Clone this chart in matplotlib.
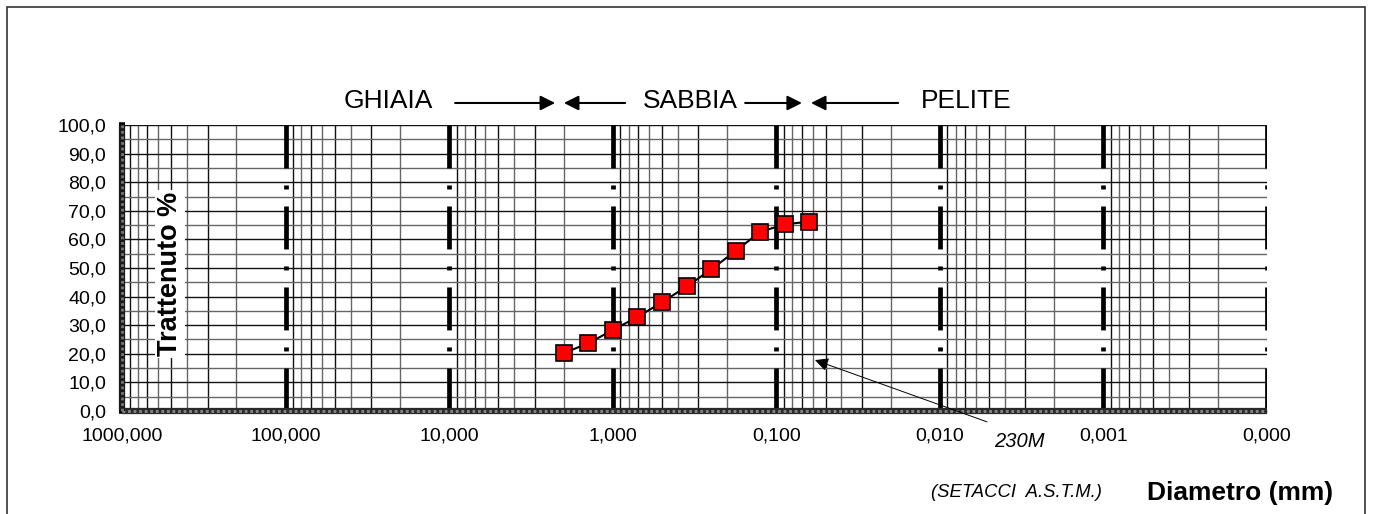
"""Curva granulometrica (trattenuto % vs diametro, setacci ASTM)."""
import matplotlib
matplotlib.use("Agg")
import matplotlib.pyplot as plt  # noqa: E402
import numpy as np  # noqa: E402
from matplotlib.patches import Rectangle  # noqa: E402

plt.rcParams["font.family"] = ["Liberation Sans", "DejaVu Sans"]

# data
diam = [2.0, 1.41, 1.0, 0.71, 0.5, 0.35, 0.25, 0.177, 0.125, 0.088, 0.063]
tratt = [20.2, 23.7, 28.3, 32.8, 38.0, 43.7, 49.5, 56.0, 62.7, 65.3, 66.2]

decades = [1000, 100, 10, 1, 0.1, 0.01, 0.001, 0.0001]
xlabels = ["1000,000", "100,000", "10,000", "1,000", "0,100", "0,010", "0,001", "0,000"]
yticks = [0, 10, 20, 30, 40, 50, 60, 70, 80, 90, 100]
ylabels = [f"{v:.1f}".replace(".", ",") for v in yticks]

fig = plt.figure(figsize=(13.76, 5.14), dpi=100)
ax = fig.add_axes([0.0887, 0.2004, 0.8321, 0.5564])
ax.set_xscale("log")
ax.set_xlim(1000, 0.0001)
ax.set_ylim(0, 100)
for s in ax.spines.values():
    s.set_visible(False)

# minor grid: 2..9 in every decade
for d in decades[1:]:
    for m in range(2, 10):
        ax.plot([d * m, d * m], [0, 100], color="#111" if m % 2 else "#666",
                lw=1.0, zorder=1)
# horizontal grid every 5 %
for i, yv in enumerate(np.arange(5, 101, 5)):
    ax.plot([1000, 0.0001], [yv, yv], color="#111" if i % 2 else "#666",
            lw=1.0, zorder=1)

# decade lines, thick dash-dot
for d in decades[1:]:
    ax.plot([d, d], [100, 0], color="black", lw=3.4,
            linestyle=(0, (9.1, 3.6, 0.85, 3.6)), zorder=2)

# checkered axis lines
ax.plot([1000, 0.0001], [0, 0], color="#2a2a2a", lw=4.5, clip_on=False,
        zorder=3, solid_capstyle="butt")
ax.plot([1000, 0.0001], [0, 0], color="#888", lw=2, ls=(0, (1, 1)),
        clip_on=False, zorder=3)
ax.plot([1000, 1000], [0, 100], color="#1a1a1a", lw=4.5, clip_on=False,
        zorder=3, solid_capstyle="butt")
ax.plot([1000, 1000], [0, 100], color="#777", lw=2, ls=(0, (1, 1)),
        clip_on=False, zorder=3)

ax.set_xticks(decades)
ax.set_xticklabels(xlabels, fontsize=14)
ax.xaxis.set_minor_locator(matplotlib.ticker.NullLocator())
ax.tick_params(axis="x", length=0, pad=12)
ax.set_yticks(yticks)
ax.set_yticklabels(ylabels, fontsize=14)
ax.tick_params(axis="y", length=5, width=4, direction="inout", pad=9)

# data
ax.plot(diam, tratt, color="black", lw=1.5, marker="s", ms=11,
        mfc="red", mec="black", mew=1.2, zorder=5)

# "Trattenuto %"
ax.text(510, 47.9, "Trattenuto %", rotation=90, fontsize=19.5, fontweight="bold",
        ha="center", va="center", zorder=6,
        bbox=dict(facecolor="white", edgecolor="none", pad=1.5))

# class labels and arrows above the plot
tr = ax.get_xaxis_transform()
ty = 1.085
for x, lab in [(23.7, "GHIAIA"), (0.337, "SABBIA"), (0.0069, "PELITE")]:
    ax.text(x, ty, lab, transform=tr, fontsize=19, ha="center", va="center")
for x0, x1 in [(9.2, 2.25), (0.84, 1.99), (0.155, 0.0697), (0.018, 0.0614)]:
    ax.annotate("", xy=(x1, ty - 0.008), xytext=(x0, ty - 0.008), xycoords=tr,
                textcoords=tr,
                arrowprops=dict(arrowstyle="-|>", color="black", lw=1.5,
                                mutation_scale=22, shrinkA=0, shrinkB=0))

# 230M pointer
ax.annotate("", xy=(0.058, 17.8), xytext=(0.00515, -3.8),
            arrowprops=dict(arrowstyle="-|>", color="black", lw=0.7,
                            mutation_scale=20, shrinkA=0, shrinkB=0),
            annotation_clip=False)
ax.text(0.00328, -10.5, "230M", fontsize=14.5, style="italic", ha="center",
        va="center", clip_on=False)

fig.text(0.739, 0.041, "(SETACCI  A.S.T.M.)", fontsize=13.3, style="italic",
         ha="center", va="center")
fig.text(0.901, 0.041, "Diametro (mm)", fontsize=19, fontweight="bold",
         ha="center", va="center")

# outer frame
fig.patches.append(Rectangle((7 / 1376, -0.1), 1358 / 1376, 1.1 - 7 / 514,
                             transform=fig.transFigure, fill=False,
                             edgecolor="#333", lw=1.2))

fig.savefig("out.png", dpi=100)
